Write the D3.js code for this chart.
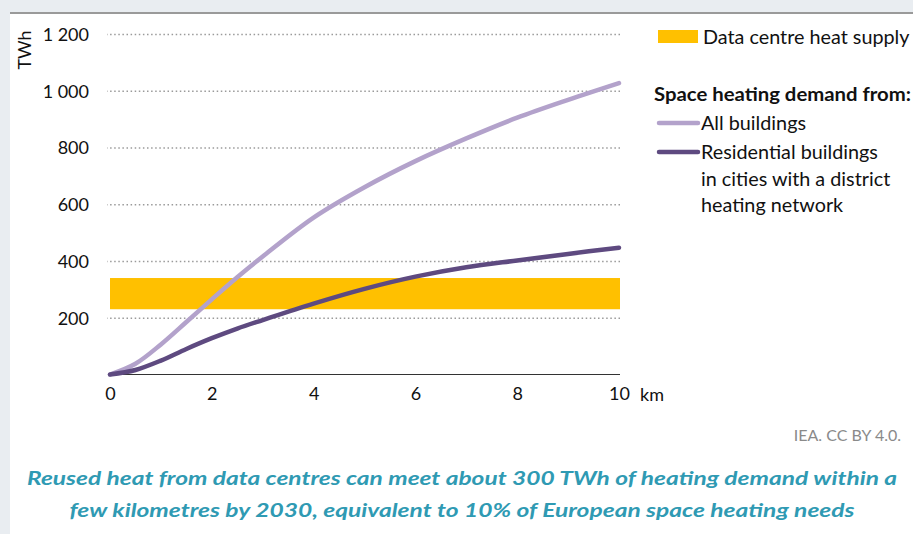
<!DOCTYPE html>
<html><head><meta charset="utf-8">
<script src="https://cdn.jsdelivr.net/npm/d3@7"></script>
<style>
body{margin:0;background:#fff;}
svg text{font-family:"Lato","Open Sans",sans-serif;}
</style></head>
<body><svg id="c" width="913" height="534"></svg>
<script>
const km = [0,0.5,1,1.5,2,2.5,3,4,5,6,7,8,9,10];
const allBuildings = [0,38,106,185,265,343,416,553,660,752,832,905,968,1027];
const residential = [0,16,49,90,128,162,192,250,302,345,378,402,425,447];
const supplyRange = [230,340];
const yTicks = [200,400,600,800,1000,1200];
const xTicks = [0,2,4,6,8,10];
const fmt = v => v >= 1000 ? Math.floor(v/1000)+" "+String(v%1000).padStart(3,"0") : String(v);

const svg = d3.select("#c");
svg.append("rect").attr("width",913).attr("height",534).attr("fill","#e9edf1");
svg.append("rect").attr("x",10).attr("y",12).attr("width",903).attr("height",522).attr("fill","#fff");
svg.append("rect").attr("x",10).attr("y",12).attr("width",903).attr("height",2).attr("fill","#9a9a9a");

const x = d3.scaleLinear().domain([0,10]).range([110,619]);
const y = d3.scaleLinear().domain([0,1200]).range([374.5,34]);

// gridlines
const gg = svg.append("g").attr("transform","translate(620,0)").call(d3.axisRight(y).tickValues(yTicks).tickSize(-(620-107)).tickFormat(""));
gg.select(".domain").remove();
gg.selectAll("line").attr("stroke","#9a9a9a").attr("stroke-width",1.6).attr("stroke-dasharray","1.5,2.6");

// supply band
svg.append("rect").attr("x",x(0)).attr("width",x(10)-x(0)+1)
  .attr("y",y(supplyRange[1])).attr("height",y(supplyRange[0])-y(supplyRange[1])).attr("fill","#ffc000");

// y labels
const ya = svg.append("g").attr("transform","translate(89,0)").call(d3.axisLeft(y).tickValues(yTicks).tickSize(0).tickFormat(fmt));
ya.select(".domain").remove();
ya.selectAll("text").attr("font-family","Lato, sans-serif").attr("font-size",18).attr("fill","#111").attr("dy","0.35em").attr("x",0);

// x axis
const xa = svg.append("g").attr("transform","translate(0,374.5)").call(d3.axisBottom(x).tickValues(xTicks).tickSize(0).tickPadding(13));
xa.select(".domain").attr("stroke","#333").attr("stroke-width",1.2).attr("d","M110,0H620");
xa.selectAll("text").attr("font-family","Lato, sans-serif").attr("font-size",18).attr("fill","#111");
svg.append("text").attr("x",640).attr("y",401).attr("font-size",18).attr("fill","#111").text("km");

svg.append("text").attr("transform","translate(31,50) rotate(-90)").attr("text-anchor","middle")
  .attr("font-size",18).attr("fill","#111").text("TWh");

const line = d3.line().x((d,i)=>x(km[i])).y(d=>y(d)).curve(d3.curveCatmullRom.alpha(0.5));
svg.append("path").attr("d",line(allBuildings)).attr("fill","none").attr("stroke","#b3a2cb").attr("stroke-width",4.5).attr("stroke-linecap","round");
svg.append("path").attr("d",line(residential)).attr("fill","none").attr("stroke","#5e4a80").attr("stroke-width",4.5).attr("stroke-linecap","round");

// legend
svg.append("rect").attr("x",658).attr("y",30).attr("width",40).attr("height",13).attr("fill","#ffc000");
svg.append("text").attr("x",703).attr("y",44).attr("font-size",19.8).attr("fill","#111").text("Data centre heat supply");
svg.append("text").attr("x",654).attr("y",101).attr("font-size",19.8).attr("font-weight","bold").attr("fill","#111")
  .attr("textLength",257).attr("lengthAdjust","spacingAndGlyphs").text("Space heating demand from:");
svg.append("line").attr("x1",659).attr("x2",698).attr("y1",123).attr("y2",123).attr("stroke","#b3a2cb").attr("stroke-width",4.5).attr("stroke-linecap","round");
svg.append("text").attr("x",701).attr("y",130).attr("font-size",19.8).attr("fill","#111").text("All buildings");
svg.append("line").attr("x1",659).attr("x2",698).attr("y1",152).attr("y2",152).attr("stroke","#5e4a80").attr("stroke-width",4.5).attr("stroke-linecap","round");
["Residential buildings","in cities with a district","heating network"].forEach((t,i)=>{
  svg.append("text").attr("x",701).attr("y",159+i*26.5).attr("font-size",19.8).attr("fill","#111").text(t);
});

svg.append("text").attr("x",901).attr("y",441).attr("text-anchor","end").attr("font-size",16).attr("fill","#8a8a8a").text("IEA. CC BY 4.0.");

const cap = ["Reused heat from data centres can meet about 300 TWh of heating demand within a",
             "few kilometres by 2030, equivalent to 10% of European space heating needs"];
const capW = [870, 785];
cap.forEach((t,i)=>{
  svg.append("text").attr("x",462).attr("y",485+i*32).attr("text-anchor","middle")
    .attr("font-family","'DejaVu Sans', sans-serif").attr("font-style","italic").attr("font-weight","bold")
    .attr("font-size",18).attr("fill","#2f9ab3")
    .attr("textLength",capW[i]).attr("lengthAdjust","spacingAndGlyphs").text(t);
});
</script></body></html>
